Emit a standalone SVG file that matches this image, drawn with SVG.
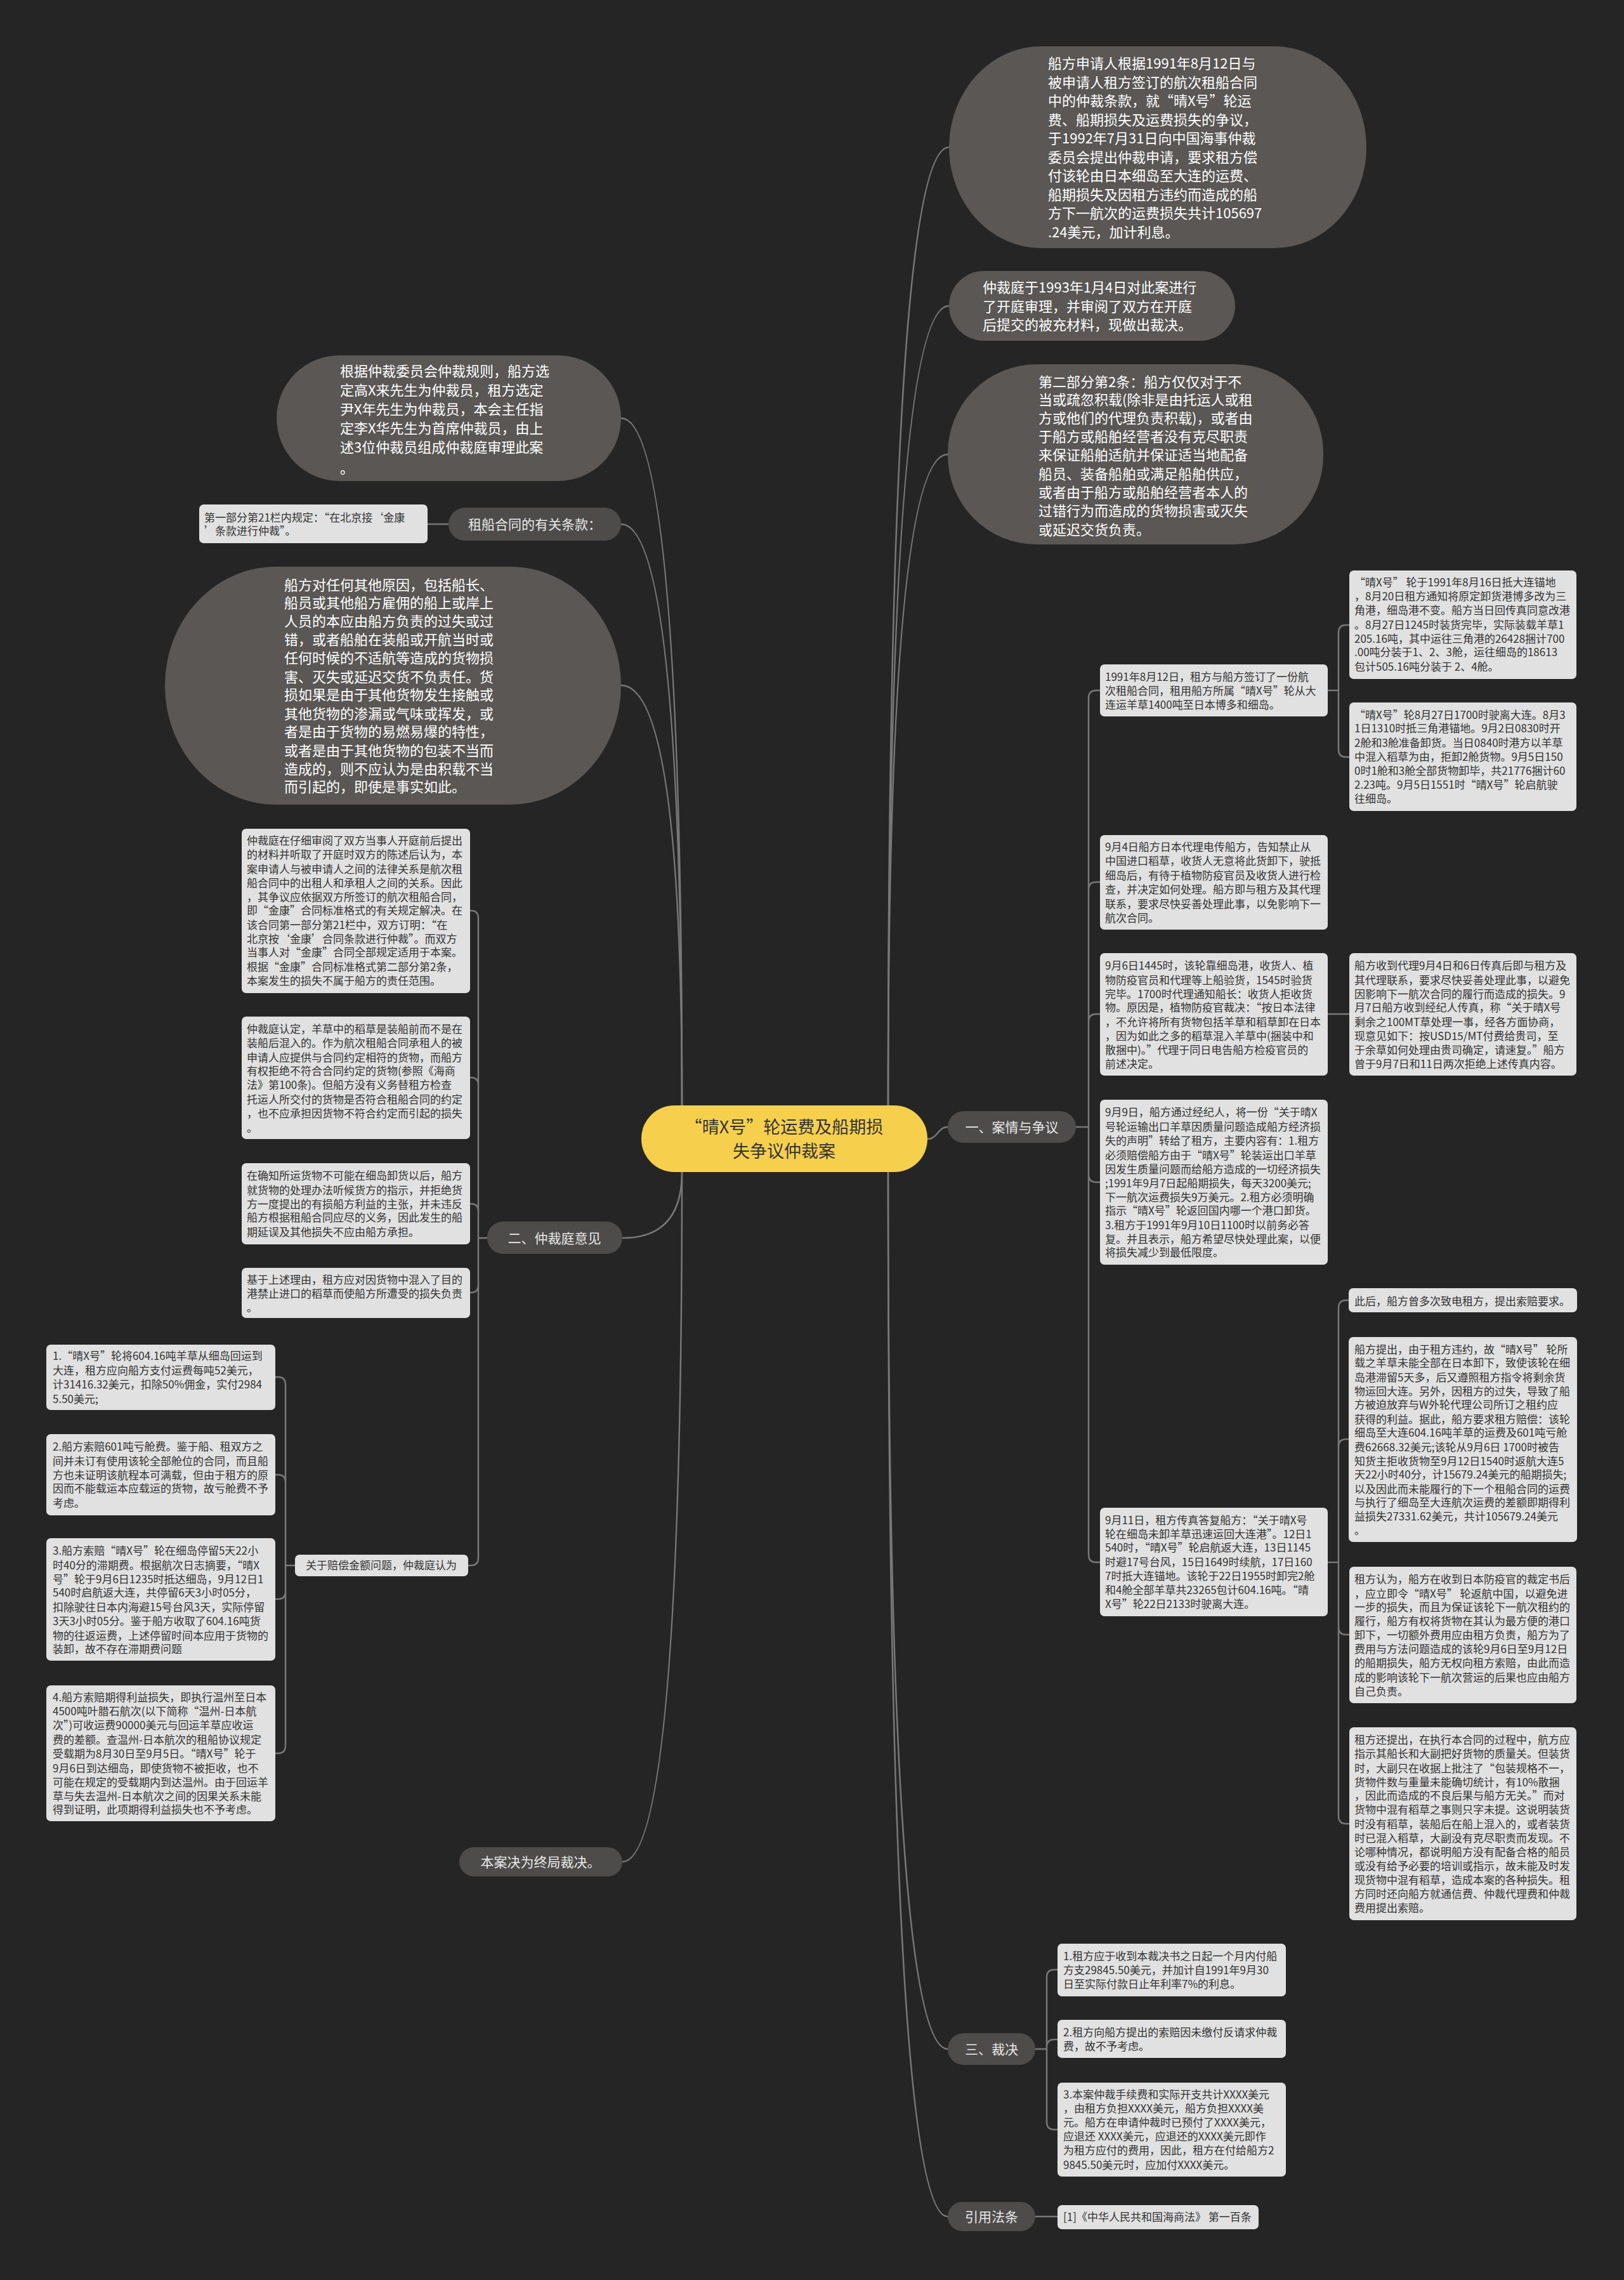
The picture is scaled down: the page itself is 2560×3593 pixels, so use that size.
<svg xmlns="http://www.w3.org/2000/svg" width="2560" height="3593" viewBox="0 0 2560 3593">
<style>
text{font-family:"Noto Sans CJK SC","Noto Sans",sans-serif}
.ell{fill:#5a5754}
.pill{fill:#4e4c4a}
.box{fill:#e1e1e1}
.tw{fill:#ffffff;font-size:22px}
.tb{fill:#333333;font-size:17px}
.tl{fill:#e8e8e8;font-size:21px}
.tc{fill:#333333;font-size:27px}
.ln{fill:none;stroke:#787878;stroke-width:2.5}
</style>
<rect width="2560" height="3593" fill="#252525"/>
<g id="connectors" class="ln">
<path d="M1400 1742 Q1400 232 1496 232"/>
<path d="M1400 1742 Q1400 482 1496 482"/>
<path d="M1400 1742 Q1400 716 1494 716"/>
<path d="M1462 1795 C1478 1795 1478 1776 1494 1776"/>
<path d="M1400 1847 Q1400 3229 1494 3229"/>
<path d="M1400 1847 Q1400 3493 1494 3493"/>
<path d="M1075 1742 Q1075 659 979 659"/>
<path d="M1075 1742 Q1075 826 979 826"/>
<path d="M1075 1742 Q1075 1080 979 1080"/>
<path d="M1075 1847 Q1075 1951 981 1951"/>
<path d="M1075 1847 Q1075 2934 981 2934"/>
<path d="M1696 1776 H1716 M1716 1776 V1100 Q1716 1088 1728 1088 H1734 M1716 1776 V1402 Q1716 1390 1728 1390 H1734 M1716 1776 V1610 Q1716 1598 1728 1598 H1734 M1716 1776 V1851 Q1716 1863 1728 1863 H1734 M1716 1776 V2450 Q1716 2462 1728 2462 H1734"/>
<path d="M2093 1088 H2110 M2110 1088 V997 Q2110 985 2122 985 H2127 M2110 1088 V1181 Q2110 1193 2122 1193 H2127"/>
<path d="M2093 1598 H2127"/>
<path d="M2093 2462 H2110 M2110 2462 V2061 Q2110 2049 2122 2049 H2127 M2110 2462 V2280 Q2110 2268 2122 2268 H2127 M2110 2462 V2564 Q2110 2576 2122 2576 H2127 M2110 2462 V2862 Q2110 2874 2122 2874 H2127"/>
<path d="M768 1951 H754 M754 1951 V1447 Q754 1435 742 1435 H741 M754 1951 V1710 Q754 1698 742 1698 H741 M754 1951 V1909 Q754 1897 742 1897 H741 M754 1951 V2025 Q754 2037 742 2037 H741 M754 1951 V2455 Q754 2467 742 2467 H738"/>
<path d="M465 2467 H450 M450 2467 V2182 Q450 2170 438 2170 H434 M450 2467 V2336 Q450 2324 438 2324 H434 M450 2467 V2508 Q450 2520 438 2520 H434 M450 2467 V2751 Q450 2763 438 2763 H434"/>
<path d="M1632 3229 H1650 M1650 3229 V3116 Q1650 3104 1662 3104 H1667 M1650 3229 V3226 Q1650 3214 1662 3214 H1667 M1650 3229 V3344 Q1650 3356 1662 3356 H1667"/>
<path d="M1632 3493 H1667"/>
<path d="M707 826 H674"/>
</g>
<g id="root">
<rect x="1011" y="1742" width="451" height="105" rx="52" fill="#f6d04d"/>
<text class="tc" x="1236" y="1786" text-anchor="middle">“晴X号”轮运费及船期损</text>
<text class="tc" x="1236" y="1824" text-anchor="middle">失争议仲裁案</text>
</g>
<g id="n-apply">
<rect class="ell" x="1496" y="73" width="658" height="318" rx="145" ry="159"/>
<text class="tw" x="1652" y="108">船方申请人根据1991年8月12日与</text>
<text class="tw" x="1652" y="137.5">被申请人租方签订的航次租船合同</text>
<text class="tw" x="1652" y="167">中的仲裁条款，就“晴X号”轮运</text>
<text class="tw" x="1652" y="196.5">费、船期损失及运费损失的争议，</text>
<text class="tw" x="1652" y="226">于1992年7月31日向中国海事仲裁</text>
<text class="tw" x="1652" y="255.5">委员会提出仲裁申请，要求租方偿</text>
<text class="tw" x="1652" y="285">付该轮由日本细岛至大连的运费、</text>
<text class="tw" x="1652" y="314.5">船期损失及因租方违约而造成的船</text>
<text class="tw" x="1652" y="344">方下一航次的运费损失共计105697</text>
<text class="tw" x="1652" y="373.5">.24美元，加计利息。</text>
</g>
<g id="n-hearing">
<rect class="ell" x="1496" y="427" width="451" height="110" rx="55"/>
<text class="tw" x="1549" y="461">仲裁庭于1993年1月4日对此案进行</text>
<text class="tw" x="1549" y="491">了开庭审理，并审阅了双方在开庭</text>
<text class="tw" x="1549" y="520">后提交的被充材料，现做出裁决。</text>
</g>
<g id="n-clause2">
<rect class="ell" x="1494" y="574" width="592" height="284" rx="140"/>
<text class="tw" x="1637" y="610">第二部分第2条：船方仅仅对于不</text>
<text class="tw" x="1637" y="638">当或疏忽积载(除非是由托运人或租</text>
<text class="tw" x="1637" y="667">方或他们的代理负责积载)，或者由</text>
<text class="tw" x="1637" y="696">于船方或船舶经营者没有克尽职责</text>
<text class="tw" x="1637" y="725">来保证船舶适航并保证适当地配备</text>
<text class="tw" x="1637" y="755">船员、装备船舶或满足船舶供应，</text>
<text class="tw" x="1637" y="784">或者由于船方或船舶经营者本人的</text>
<text class="tw" x="1637" y="813">过错行为而造成的货物损害或灭失</text>
<text class="tw" x="1637" y="843">或延迟交货负责。</text>
</g>
<g id="n-arbitrators">
<rect class="ell" x="436" y="560" width="543" height="198" rx="99"/>
<text class="tw" x="536" y="593">根据仲裁委员会仲裁规则，船方选</text>
<text class="tw" x="536" y="623">定高X来先生为仲裁员，租方选定</text>
<text class="tw" x="536" y="653">尹X年先生为仲裁员，本会主任指</text>
<text class="tw" x="536" y="683">定李X华先生为首席仲裁员，由上</text>
<text class="tw" x="536" y="713">述3位仲裁员组成仲裁庭审理此案</text>
<text class="tw" x="536" y="746">。</text>
</g>
<g id="n-contract">
<rect class="pill" x="707" y="800" width="272" height="52" rx="26"/>
<text class="tl" x="843" y="834" text-anchor="middle">租船合同的有关条款：</text>
</g>
<g id="n-clause21">
<rect class="box" x="314" y="795" width="360" height="61" rx="7"/>
<text class="tb" x="322" y="822">第一部分第21栏内规定：“在北京接‘金康</text>
<text class="tb" x="322" y="843">’条款进行仲裁”。</text>
</g>
<g id="n-other">
<rect class="ell" x="260" y="893" width="719" height="375" rx="175" ry="187"/>
<text class="tw" x="448" y="930">船方对任何其他原因，包括船长、</text>
<text class="tw" x="448" y="958">船员或其他船方雇佣的船上或岸上</text>
<text class="tw" x="448" y="987">人员的本应由船方负责的过失或过</text>
<text class="tw" x="448" y="1016">错，或者船舶在装船或开航当时或</text>
<text class="tw" x="448" y="1045">任何时候的不适航等造成的货物损</text>
<text class="tw" x="448" y="1075">害、灭失或延迟交货不负责任。货</text>
<text class="tw" x="448" y="1103">损如果是由于其他货物发生接触或</text>
<text class="tw" x="448" y="1133">其他货物的渗漏或气味或挥发，或</text>
<text class="tw" x="448" y="1161">者是由于货物的易燃易爆的特性，</text>
<text class="tw" x="448" y="1191">或者是由于其他货物的包装不当而</text>
<text class="tw" x="448" y="1220">造成的，则不应认为是由积载不当</text>
<text class="tw" x="448" y="1248">而引起的，即使是事实如此。</text>
</g>
<g id="n-facts">
<rect class="pill" x="1494" y="1751" width="202" height="50" rx="25"/>
<text class="tl" x="1595" y="1784" text-anchor="middle">一、案情与争议</text>
</g>
<g id="n-0812">
<rect class="box" x="1734" y="1047" width="359" height="82" rx="7"/>
<text class="tb" x="1742" y="1073">1991年8月12日，租方与船方签订了一份航</text>
<text class="tb" x="1742" y="1095">次租船合同，租用船方所属“晴X号”轮从大</text>
<text class="tb" x="1742" y="1117">连运羊草1400吨至日本博多和细岛。</text>
</g>
<g id="n-0816">
<rect class="box" x="2127" y="899" width="358" height="171" rx="7"/>
<text class="tb" x="2135" y="924">“晴X号” 轮于1991年8月16日抵大连锚地</text>
<text class="tb" x="2135" y="946">，8月20日租方通知将原定卸货港博多改为三</text>
<text class="tb" x="2135" y="968">角港，细岛港不变。船方当日回传真同意改港</text>
<text class="tb" x="2135" y="991">。8月27日1245时装货完毕，实际装载羊草1</text>
<text class="tb" x="2135" y="1013">205.16吨，其中运往三角港的26428捆计700</text>
<text class="tb" x="2135" y="1034">.00吨分装于1、2、3舱，运往细岛的18613</text>
<text class="tb" x="2135" y="1057">包计505.16吨分装于 2、4舱。</text>
</g>
<g id="n-0827">
<rect class="box" x="2127" y="1107" width="358" height="171" rx="7"/>
<text class="tb" x="2135" y="1133">“晴X号”轮8月27日1700时驶离大连。8月3</text>
<text class="tb" x="2135" y="1154">1日1310时抵三角港锚地。9月2日0830时开</text>
<text class="tb" x="2135" y="1177">2舱和3舱准备卸货。当日0840时港方以羊草</text>
<text class="tb" x="2135" y="1199">中混入稻草为由，拒卸2舱货物。9月5日150</text>
<text class="tb" x="2135" y="1221">0时1舱和3舱全部货物卸毕，共21776捆计60</text>
<text class="tb" x="2135" y="1243">2.23吨。9月5日1551时“晴X号”轮启航驶</text>
<text class="tb" x="2135" y="1265">往细岛。</text>
</g>
<g id="n-0904">
<rect class="box" x="1734" y="1316" width="359" height="149" rx="7"/>
<text class="tb" x="1742" y="1341">9月4日船方日本代理电传船方，告知禁止从</text>
<text class="tb" x="1742" y="1363">中国进口稻草，收货人无意将此货卸下，驶抵</text>
<text class="tb" x="1742" y="1386">细岛后，有待于植物防疫官员及收货人进行检</text>
<text class="tb" x="1742" y="1408">查，并决定如何处理。船方即与租方及其代理</text>
<text class="tb" x="1742" y="1431">联系，要求尽快妥善处理此事，以免影响下一</text>
<text class="tb" x="1742" y="1453">航次合同。</text>
</g>
<g id="n-0906">
<rect class="box" x="1734" y="1502" width="359" height="193" rx="7"/>
<text class="tb" x="1742" y="1528">9月6日1445时，该轮靠细岛港，收货人、植</text>
<text class="tb" x="1742" y="1551">物防疫官员和代理等上船验货，1545时验货</text>
<text class="tb" x="1742" y="1573">完毕。1700时代理通知船长：收货人拒收货</text>
<text class="tb" x="1742" y="1594">物。原因是，植物防疫官裁决：“按日本法律</text>
<text class="tb" x="1742" y="1617">，不允许将所有货物包括羊草和稻草卸在日本</text>
<text class="tb" x="1742" y="1639">，因为如此之多的稻草混入羊草中(捆装中和</text>
<text class="tb" x="1742" y="1661">散捆中)。”代理于同日电告船方检疫官员的</text>
<text class="tb" x="1742" y="1683">前述决定。</text>
</g>
<g id="n-fax">
<rect class="box" x="2127" y="1502" width="358" height="193" rx="7"/>
<text class="tb" x="2135" y="1528">船方收到代理9月4日和6日传真后即与租方及</text>
<text class="tb" x="2135" y="1551">其代理联系，要求尽快妥善处理此事，以避免</text>
<text class="tb" x="2135" y="1573">因影响下一航次合同的履行而造成的损失。9</text>
<text class="tb" x="2135" y="1594">月7日船方收到经纪人传真，称“关于晴X号</text>
<text class="tb" x="2135" y="1617">剩余之100MT草处理一事，经各方面协商，</text>
<text class="tb" x="2135" y="1639">现意见如下：按USD15/MT付费给贵司，至</text>
<text class="tb" x="2135" y="1661">于余草如何处理由贵司确定，请速复。”船方</text>
<text class="tb" x="2135" y="1683">曾于9月7日和11日两次拒绝上述传真内容。</text>
</g>
<g id="n-0909">
<rect class="box" x="1734" y="1733" width="359" height="260" rx="7"/>
<text class="tb" x="1742" y="1759">9月9日，船方通过经纪人，将一份“关于晴X</text>
<text class="tb" x="1742" y="1782">号轮运输出口羊草因质量问题造成船方经济损</text>
<text class="tb" x="1742" y="1804">失的声明”转给了租方，主要内容有：1.租方</text>
<text class="tb" x="1742" y="1827">必须赔偿船方由于“晴X号”轮装运出口羊草</text>
<text class="tb" x="1742" y="1849">因发生质量问题而给船方造成的一切经济损失</text>
<text class="tb" x="1742" y="1871">;1991年9月7日起船期损失，每天3200美元;</text>
<text class="tb" x="1742" y="1893">下一航次运费损失9万美元。2.租方必须明确</text>
<text class="tb" x="1742" y="1914">指示“晴X号”轮返回国内哪一个港口卸货。</text>
<text class="tb" x="1742" y="1937">3.租方于1991年9月10日1100时以前务必答</text>
<text class="tb" x="1742" y="1959">复。并且表示，船方希望尽快处理此案，以便</text>
<text class="tb" x="1742" y="1980">将损失减少到最低限度。</text>
</g>
<g id="n-0911">
<rect class="box" x="1734" y="2376" width="359" height="171" rx="7"/>
<text class="tb" x="1742" y="2402">9月11日，租方传真答复船方：“关于晴X号</text>
<text class="tb" x="1742" y="2424">轮在细岛未卸羊草迅速运回大连港”。12日1</text>
<text class="tb" x="1742" y="2445">540时，“晴X号”轮启航返大连，13日1145</text>
<text class="tb" x="1742" y="2468">时避17号台风，15日1649时续航，17日160</text>
<text class="tb" x="1742" y="2490">7时抵大连锚地。该轮于22日1955时卸完2舱</text>
<text class="tb" x="1742" y="2512">和4舱全部羊草共23265包计604.16吨。“晴</text>
<text class="tb" x="1742" y="2534">X号”轮22日2133时驶离大连。</text>
</g>
<g id="n-after">
<rect class="box" x="2126" y="2030" width="360" height="38" rx="7"/>
<text class="tb" x="2135" y="2057">此后，船方曾多次致电租方，提出索赔要求。</text>
</g>
<g id="n-owner-claim">
<rect class="box" x="2126" y="2107" width="360" height="323" rx="7"/>
<text class="tb" x="2135" y="2133">船方提出，由于租方违约，故“晴X号” 轮所</text>
<text class="tb" x="2135" y="2154">载之羊草未能全部在日本卸下，致使该轮在细</text>
<text class="tb" x="2135" y="2177">岛港滞留5天多，后又遵照租方指令将剩余货</text>
<text class="tb" x="2135" y="2199">物运回大连。另外，因租方的过失，导致了船</text>
<text class="tb" x="2135" y="2220">方被迫放弃与W外轮代理公司所订之租约应</text>
<text class="tb" x="2135" y="2243">获得的利益。据此，船方要求租方赔偿：该轮</text>
<text class="tb" x="2135" y="2264">细岛至大连604.16吨羊草的运费及601吨亏舱</text>
<text class="tb" x="2135" y="2287">费62668.32美元;该轮从9月6日 1700时被告</text>
<text class="tb" x="2135" y="2309">知货主拒收货物至9月12日1540时返航大连5</text>
<text class="tb" x="2135" y="2330">天22小时40分，计15679.24美元的船期损失;</text>
<text class="tb" x="2135" y="2353">以及因此而未能履行的下一个租船合同的运费</text>
<text class="tb" x="2135" y="2374">与执行了细岛至大连航次运费的差额即期得利</text>
<text class="tb" x="2135" y="2396">益损失27331.62美元，共计105679.24美元</text>
<text class="tb" x="2135" y="2418">。</text>
</g>
<g id="n-charterer-view">
<rect class="box" x="2127" y="2469" width="358" height="215" rx="7"/>
<text class="tb" x="2135" y="2495">租方认为，船方在收到日本防疫官的裁定书后</text>
<text class="tb" x="2135" y="2518">，应立即令“晴X号” 轮返航中国，以避免进</text>
<text class="tb" x="2135" y="2539">一步的损失，而且为保证该轮下一航次租约的</text>
<text class="tb" x="2135" y="2561">履行，船方有权将货物在其认为最方便的港口</text>
<text class="tb" x="2135" y="2583">卸下，一切额外费用应由租方负责，船方为了</text>
<text class="tb" x="2135" y="2605">费用与方法问题造成的该轮9月6日至9月12日</text>
<text class="tb" x="2135" y="2627">的船期损失，船方无权向租方索赔，由此而造</text>
<text class="tb" x="2135" y="2650">成的影响该轮下一航次营运的后果也应由船方</text>
<text class="tb" x="2135" y="2672">自己负责。</text>
</g>
<g id="n-charterer-more">
<rect class="box" x="2127" y="2722" width="358" height="304" rx="7"/>
<text class="tb" x="2135" y="2748">租方还提出，在执行本合同的过程中，航方应</text>
<text class="tb" x="2135" y="2770">指示其船长和大副把好货物的质量关。但装货</text>
<text class="tb" x="2135" y="2793">时，大副只在收据上批注了“包装规格不一，</text>
<text class="tb" x="2135" y="2815">货物件数与重量未能确切统计，有10%散捆</text>
<text class="tb" x="2135" y="2836">，因此而造成的不良后果与船方无关。”而对</text>
<text class="tb" x="2135" y="2858">货物中混有稻草之事则只字未提。这说明装货</text>
<text class="tb" x="2135" y="2881">时没有稻草，装船后在船上混入的，或者装货</text>
<text class="tb" x="2135" y="2903">时已混入稻草，大副没有克尽职责而发现。不</text>
<text class="tb" x="2135" y="2925">论哪种情况，都说明船方没有配备合格的船员</text>
<text class="tb" x="2135" y="2947">或没有给予必要的培训或指示，故未能及时发</text>
<text class="tb" x="2135" y="2969">现货物中混有稻草，造成本案的各种损失。租</text>
<text class="tb" x="2135" y="2991">方同时还向船方就通信费、仲裁代理费和仲裁</text>
<text class="tb" x="2135" y="3013">费用提出索赔。</text>
</g>
<g id="n-opinion">
<rect class="pill" x="768" y="1925" width="213" height="51" rx="25"/>
<text class="tl" x="874" y="1959" text-anchor="middle">二、仲裁庭意见</text>
</g>
<g id="n-op-a">
<rect class="box" x="381" y="1306" width="360" height="259" rx="7"/>
<text class="tb" x="389" y="1331">仲裁庭在仔细审阅了双方当事人开庭前后提出</text>
<text class="tb" x="389" y="1353">的材料并听取了开庭时双方的陈述后认为，本</text>
<text class="tb" x="389" y="1376">案申请人与被申请人之间的法律关系是航次租</text>
<text class="tb" x="389" y="1398">船合同中的出租人和承租人之间的关系。因此</text>
<text class="tb" x="389" y="1420">，其争议应依据双方所签订的航次租船合同，</text>
<text class="tb" x="389" y="1441">即“金康”合同标准格式的有关规定解决。在</text>
<text class="tb" x="389" y="1464">该合同第一部分第21栏中，双方订明：“在</text>
<text class="tb" x="389" y="1486">北京按‘金康’合同条款进行仲裁”。而双方</text>
<text class="tb" x="389" y="1507">当事人对“金康”合同全部规定适用于本案。</text>
<text class="tb" x="389" y="1530">根据“金康”合同标准格式第二部分第2条，</text>
<text class="tb" x="389" y="1552">本案发生的损失不属于船方的责任范围。</text>
</g>
<g id="n-op-b">
<rect class="box" x="381" y="1602" width="360" height="193" rx="7"/>
<text class="tb" x="389" y="1628">仲裁庭认定，羊草中的稻草是装船前而不是在</text>
<text class="tb" x="389" y="1650">装船后混入的。作为航次租船合同承租人的被</text>
<text class="tb" x="389" y="1673">申请人应提供与合同约定相符的货物，而船方</text>
<text class="tb" x="389" y="1694">有权拒绝不符合合同约定的货物(参照《海商</text>
<text class="tb" x="389" y="1716">法》第100条)。但船方没有义务替租方检查</text>
<text class="tb" x="389" y="1739">托运人所交付的货物是否符合租船合同的约定</text>
<text class="tb" x="389" y="1761">，也不应承担因货物不符合约定而引起的损失</text>
<text class="tb" x="389" y="1784">。</text>
</g>
<g id="n-op-c">
<rect class="box" x="381" y="1833" width="360" height="128" rx="7"/>
<text class="tb" x="389" y="1859">在确知所运货物不可能在细岛卸货以后，船方</text>
<text class="tb" x="389" y="1882">就货物的处理办法听候货方的指示，并拒绝货</text>
<text class="tb" x="389" y="1904">方一度提出的有损船方利益的主张，并未违反</text>
<text class="tb" x="389" y="1925">船方根据租船合同应尽的义务，因此发生的船</text>
<text class="tb" x="389" y="1948">期延误及其他损失不应由船方承担。</text>
</g>
<g id="n-op-d">
<rect class="box" x="381" y="1998" width="360" height="79" rx="7"/>
<text class="tb" x="389" y="2023">基于上述理由，租方应对因货物中混入了目的</text>
<text class="tb" x="389" y="2045">港禁止进口的稻草而使船方所遭受的损失负责</text>
<text class="tb" x="389" y="2067">。</text>
</g>
<g id="n-amount">
<rect class="box" x="465" y="2450" width="273" height="34" rx="7"/>
<text class="tb" x="601" y="2473" text-anchor="middle">关于赔偿金额问题，仲裁庭认为</text>
</g>
<g id="n-am-1">
<rect class="box" x="73" y="2119" width="361" height="103" rx="7"/>
<text class="tb" x="83" y="2143">1.“晴X号”轮将604.16吨羊草从细岛回运到</text>
<text class="tb" x="83" y="2166">大连，租方应向船方支付运费每吨52美元，</text>
<text class="tb" x="83" y="2188">计31416.32美元，扣除50%佣金，实付2984</text>
<text class="tb" x="83" y="2211">5.50美元;</text>
</g>
<g id="n-am-2">
<rect class="box" x="73" y="2260" width="361" height="128" rx="7"/>
<text class="tb" x="83" y="2286">2.船方索赔601吨亏舱费。鉴于船、租双方之</text>
<text class="tb" x="83" y="2309">间并未订有使用该轮全部舱位的合同，而且船</text>
<text class="tb" x="83" y="2331">方也未证明该航程本可满载，但由于租方的原</text>
<text class="tb" x="83" y="2352">因而不能载运本应载运的货物，故亏舱费不予</text>
<text class="tb" x="83" y="2375">考虑。</text>
</g>
<g id="n-am-3">
<rect class="box" x="73" y="2424" width="361" height="193" rx="7"/>
<text class="tb" x="83" y="2450">3.船方索赔“晴X号”轮在细岛停留5天22小</text>
<text class="tb" x="83" y="2473">时40分的滞期费。根据航次日志摘要，“晴X</text>
<text class="tb" x="83" y="2495">号”轮于9月6日1235时抵达细岛，9月12日1</text>
<text class="tb" x="83" y="2516">540时启航返大连，共停留6天3小时05分，</text>
<text class="tb" x="83" y="2539">扣除驶往日本内海避15号台风3天，实际停留</text>
<text class="tb" x="83" y="2561">3天3小时05分。鉴于船方收取了604.16吨货</text>
<text class="tb" x="83" y="2584">物的往返运费，上述停留时间本应用于货物的</text>
<text class="tb" x="83" y="2605">装卸，故不存在滞期费问题</text>
</g>
<g id="n-am-4">
<rect class="box" x="73" y="2656" width="361" height="214" rx="7"/>
<text class="tb" x="83" y="2681">4.船方索赔期得利益损失，即执行温州至日本</text>
<text class="tb" x="83" y="2703">4500吨叶腊石航次(以下简称“温州-日本航</text>
<text class="tb" x="83" y="2725">次”)可收运费90000美元与回运羊草应收运</text>
<text class="tb" x="83" y="2748">费的差额。查温州-日本航次的租船协议规定</text>
<text class="tb" x="83" y="2770">受载期为8月30日至9月5日。“晴X号”轮于</text>
<text class="tb" x="83" y="2793">9月6日到达细岛，即使货物不被拒收，也不</text>
<text class="tb" x="83" y="2815">可能在规定的受载期内到达温州。由于回运羊</text>
<text class="tb" x="83" y="2837">草与失去温州-日本航次之间的因果关系未能</text>
<text class="tb" x="83" y="2858">得到证明，此项期得利益损失也不予考虑。</text>
</g>
<g id="n-final">
<rect class="pill" x="724" y="2911" width="257" height="46" rx="23"/>
<text class="tl" x="852" y="2942" text-anchor="middle">本案决为终局裁决。</text>
</g>
<g id="n-award">
<rect class="pill" x="1494" y="3204" width="138" height="50" rx="25"/>
<text class="tl" x="1563" y="3237" text-anchor="middle">三、裁决</text>
</g>
<g id="n-aw-1">
<rect class="box" x="1667" y="3063" width="360" height="83" rx="7"/>
<text class="tb" x="1676" y="3089">1.租方应于收到本裁决书之日起一个月内付船</text>
<text class="tb" x="1676" y="3111">方支29845.50美元，并加计自1991年9月30</text>
<text class="tb" x="1676" y="3133">日至实际付款日止年利率7%的利息。</text>
</g>
<g id="n-aw-2">
<rect class="box" x="1667" y="3183" width="360" height="60" rx="7"/>
<text class="tb" x="1676" y="3209">2.租方向船方提出的索赔因未缴付反请求仲裁</text>
<text class="tb" x="1676" y="3231">费，故不予考虑。</text>
</g>
<g id="n-aw-3">
<rect class="box" x="1667" y="3282" width="360" height="148" rx="7"/>
<text class="tb" x="1676" y="3307">3.本案仲裁手续费和实际开支共计XXXX美元</text>
<text class="tb" x="1676" y="3329">，由租方负担XXXX美元，船方负担XXXX美</text>
<text class="tb" x="1676" y="3351">元。船方在申请仲裁时已预付了XXXX美元，</text>
<text class="tb" x="1676" y="3373">应退还 XXXX美元，应退还的XXXX美元即作</text>
<text class="tb" x="1676" y="3395">为租方应付的费用，因此，租方在付给船方2</text>
<text class="tb" x="1676" y="3418">9845.50美元时，应加付XXXX美元。</text>
</g>
<g id="n-law">
<rect class="pill" x="1494" y="3470" width="138" height="46" rx="23"/>
<text class="tl" x="1563" y="3501" text-anchor="middle">引用法条</text>
</g>
<g id="n-law-1">
<rect class="box" x="1667" y="3475" width="317" height="38" rx="7"/>
<text class="tb" x="1676" y="3500">[1]《中华人民共和国海商法》 第一百条</text>
</g>
</svg>
